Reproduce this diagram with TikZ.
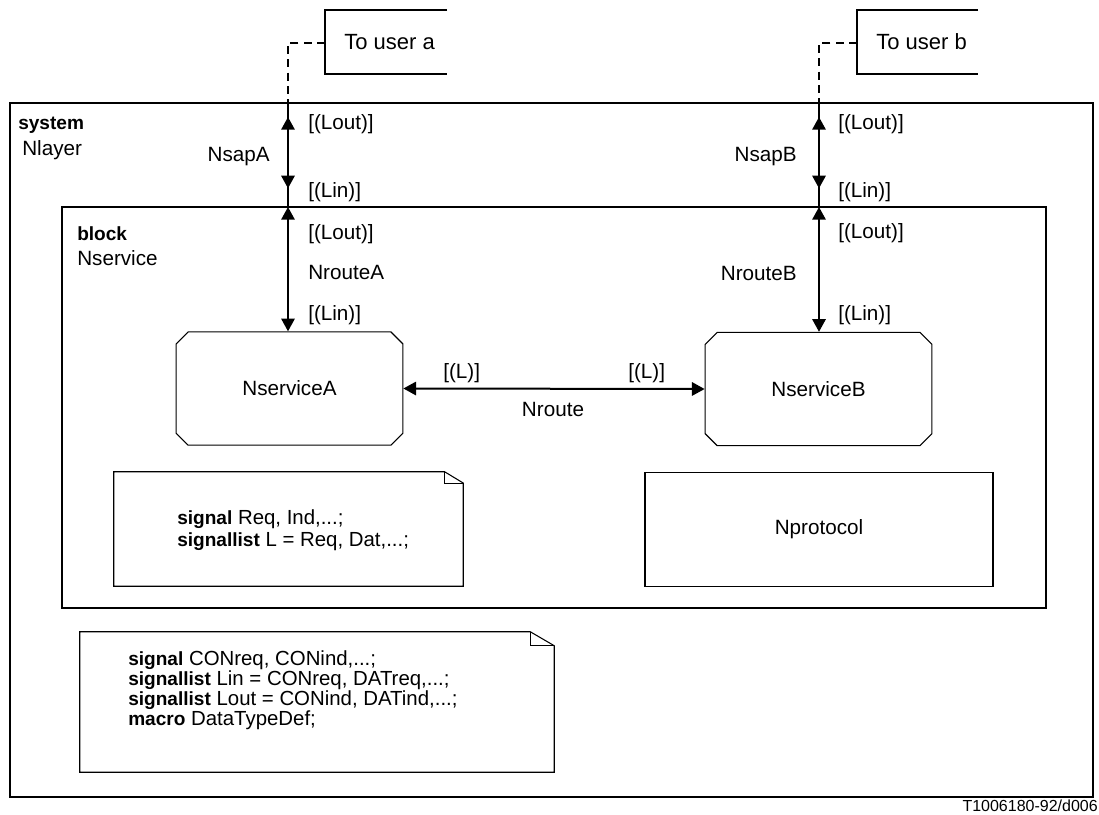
\documentclass[tikz,border=0pt]{standalone}
\usepackage{fontspec}
\setmainfont{Liberation Sans}
\usetikzlibrary{arrows.meta,shapes.misc}

\newcommand{\kw}[1]{{\fontsize{14.3}{14}\selectfont\bfseries #1}}

\tikzset{
  lbl/.style={inner sep=0pt,anchor=west},
  lblr/.style={inner sep=0pt,anchor=east},
  chan/.style={line width=1.5pt},
  tip/.style={{Triangle[length=9.5pt,width=10pt]}-{Triangle[length=9.5pt,width=10pt]}},
  proc/.style={draw,line width=.8pt,chamfered rectangle,chamfered rectangle xsep=4.5pt,
    chamfered rectangle ysep=4.5pt,inner sep=0pt,minimum width=170pt,minimum height=85pt},
  plainbox/.style={draw=none,inner sep=0pt,minimum width=261pt,minimum height=85pt},
  boxline/.style={line width=.8pt},
}

\begin{document}
\begin{tikzpicture}[x=.75pt,y=-.75pt,font=\fontsize{15.5}{14}\selectfont]
\path[use as bounding box] (0,0) rectangle (1099,814);
% system and block frames
\draw[boxline] (10,103) rectangle (1093,797);
\draw[boxline] (62,207) rectangle (1046,608);
\node[lbl] (sysname) at (18,125) {\kw{system}};
\node[lbl] (syslayer) at (22,150) {Nlayer};
\node[lbl] (blkname) at (77,234) {\kw{block}};
\node[lbl] (blkserv) at (77,258) {Nservice};
% users outside
\draw[boxline] (447,10) -- (325,10) -- (325,74) -- (447,74);
\draw[boxline] (978,10) -- (857,10) -- (857,74) -- (978,74);
\node[lbl,font=\fontsize{16.5}{18}\selectfont] (usera) at (344,42) {To user a};
\node[lbl,font=\fontsize{16.5}{18}\selectfont] (userb) at (876,42) {To user b};
\coordinate (uaedge) at (325,43);
\coordinate (ubedge) at (857,43);
% channel end points
\coordinate (sysA) at (288,103);
\coordinate (blkA) at (288,207);
\coordinate (sysB) at (819,103);
\coordinate (blkB) at (819,207);
\draw[line width=1.2pt,dash pattern=on 6pt off 4pt] (uaedge) -- (sysA |- uaedge) -- (sysA);
\draw[line width=1.2pt,dash pattern=on 6pt off 4pt] (ubedge) -- (sysB |- ubedge) -- (sysB);
% processes
\node[proc] (nsA) at (289.5,388.5) {NserviceA};
\node[proc] (nsB) at (818.5,389) {NserviceB};
% NsapA / NsapB
\draw[chan] (sysA) -- (blkA);
\draw[chan,tip,shorten <=10.5pt,shorten >=14pt] (sysA) -- (blkA);
\draw[chan] (sysB) -- (blkB);
\draw[chan,tip,shorten <=10.5pt,shorten >=14pt] (sysB) -- (blkB);
\node[lbl] (aout1) at (308,124) {[(Lout)]};
\node[lblr] (sapA) at (270,157) {NsapA};
\node[lbl] (ain1) at (308,192) {[(Lin)]};
\node[lbl] (bout1) at (838,124) {[(Lout)]};
\node[lblr] (sapB) at (797,157) {NsapB};
\node[lbl] (bin1) at (838,192) {[(Lin)]};
% NrouteA / NrouteB
\draw[chan,tip] (blkA) -- (blkA |- nsA.north);
\draw[chan,tip] (blkB) -- (blkB |- nsB.north);
\node[lbl] (aout2) at (308,234) {[(Lout)]};
\node[lbl] (rtA) at (308,272) {NrouteA};
\node[lbl] (ain2) at (308,315) {[(Lin)]};
\node[lbl] (bout2) at (838,233) {[(Lout)]};
\node[lblr] (rtB) at (797,273) {NrouteB};
\node[lbl] (bin2) at (838,315) {[(Lin)]};
% Nroute
\draw[chan,tip] (nsA.east) -- (nsB.west);
\node[lbl] (la) at (443,373) {[(L)]};
\node[lbl] (lb) at (628,373) {[(L)]};
\node (rt) at (553,409) {Nroute};
% text symbol in block
\node[plainbox,minimum width=261.75pt,minimum height=85.5pt] (txtblk) at (288.5,529) {};
\draw[boxline] (txtblk.north west) -- ([xshift=-14pt]txtblk.north east) -- ([yshift=-8.5pt]txtblk.north east)
  -- (txtblk.south east) -- (txtblk.south west) -- cycle;
\draw[boxline] ([xshift=-14pt]txtblk.north east) -- ([xshift=-14pt,yshift=-8.5pt]txtblk.north east)
  -- ([yshift=-8.5pt]txtblk.north east);
\node[lbl,align=left,font=\fontsize{15.3}{15}\selectfont] (sigblk) at (177,530)
  {\kw{signal} Req, Ind,...;\\[1.5pt] \kw{signallist} L = Req, Dat,...;};
% Nprotocol
\node[plainbox,draw,boxline] (proto) at (819,529.5) {Nprotocol};
% text symbol in system
\node[plainbox,minimum width=355.5pt,minimum height=105pt] (txtsys) at (317,702) {};
\draw[boxline] (txtsys.north west) -- ([xshift=-18pt]txtsys.north east) -- ([yshift=-10.5pt]txtsys.north east)
  -- (txtsys.south east) -- (txtsys.south west) -- cycle;
\draw[boxline] ([xshift=-18pt]txtsys.north east) -- ([xshift=-18pt,yshift=-10.5pt]txtsys.north east)
  -- ([yshift=-10.5pt]txtsys.north east);
\node[lbl,align=left,font=\fontsize{15.3}{15}\selectfont] (sigsys) at (128,690)
  {\kw{signal} CONreq, CONind,...;\\ \kw{signallist} Lin = CONreq, DATreq,...;\\
   \kw{signallist} Lout = CONind, DATind,...;\\ \kw{macro} DataTypeDef;};
\node[lblr,font=\fontsize{12}{14}\selectfont] (ref) at (1098,806) {T1006180-92/d006};
\end{tikzpicture}
\end{document}
